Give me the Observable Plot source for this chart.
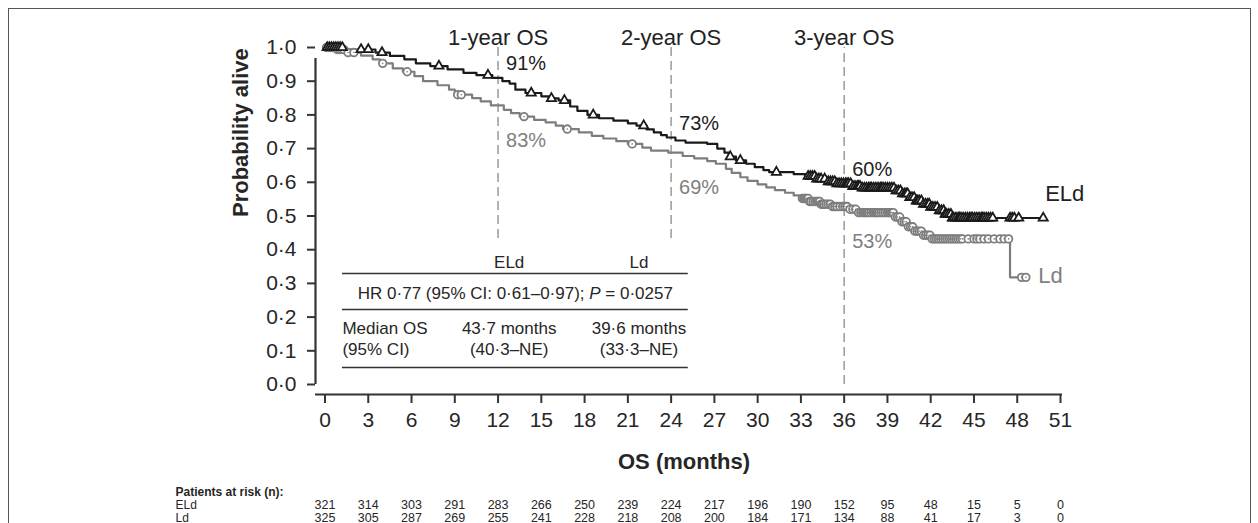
<!DOCTYPE html>
<html><head><meta charset="utf-8">
<script src="https://cdn.jsdelivr.net/npm/d3@7"></script>
<script src="https://cdn.jsdelivr.net/npm/@observablehq/plot@0.6"></script>
<style>
html,body{margin:0;padding:0;background:#fff;overflow:hidden;width:1258px;height:523px}
#frame{position:absolute;left:8px;top:8px;width:1243px;height:600px;border:1.5px solid #555;box-sizing:border-box}
#chart{position:absolute;left:0;top:0}
</style></head><body>
<div id="frame"></div><div id="chart"></div>
<script>
// ---- data ----
const xTicks = [0,3,6,9,12,15,18,21,24,27,30,33,36,39,42,45,48,51];
const yTicks = [0,0.1,0.2,0.3,0.4,0.5,0.6,0.7,0.8,0.9,1.0];
const groups = ["ELd", "Ld"];

const eldTimes = [0,1.5,3.5,4.5,5.5,6.3,7.3,8.5,9.6,10.5,11.6,12.3,12.8,13.2,13.9,15.0,15.5,16.2,17.0,17.5,18.2,19.0,20.0,21.0,21.6,22.3,22.8,23.3,23.7,24.3,25.0,26.5,27.2,27.7,28.0,28.5,29.2,29.8,30.4,30.8,32.5,33.3,34.0,34.8,35.5,36.5,37.2,39.6,40.0,40.5,41.0,41.5,42.0,42.5,43.0,43.5];
const eldSurv  = [1.0,0.994,0.985,0.975,0.965,0.953,0.945,0.935,0.925,0.918,0.91,0.90,0.893,0.875,0.865,0.855,0.849,0.843,0.825,0.812,0.80,0.79,0.783,0.775,0.768,0.757,0.748,0.74,0.733,0.724,0.718,0.714,0.70,0.688,0.676,0.665,0.655,0.645,0.636,0.63,0.624,0.618,0.61,0.602,0.596,0.588,0.583,0.575,0.566,0.555,0.545,0.535,0.526,0.516,0.505,0.494];
const eldEnd = 49.8;
const eldCensor = [0.15,0.3,0.45,0.6,0.75,0.9,1.05,1.2,2.5,3.0,3.95,7.9,11.3,14.3,15.7,16.6,18.6,22.1,28.1,28.8,31.3,
  33.5,33.65,33.8,33.95,34.1,34.25,34.4,34.65,34.9,35.05,35.2,35.35,35.5,35.65,35.8,35.95,36.1,36.2,36.3,36.45,36.6,36.75,36.9,37.0,37.1,37.25,37.4,37.55,37.7,37.8,37.9,38.05,38.2,38.35,38.5,38.6,38.7,38.85,39.0,39.15,39.3,39.45,39.6,39.75,39.9,40.05,40.2,40.3,40.4,40.55,40.7,40.85,41.0,41.1,41.2,41.35,41.5,41.65,41.8,41.9,42.0,42.15,42.3,42.45,42.6,42.75,42.9,43.0,43.1,43.25,43.4,43.5,43.6,43.75,43.9,44.0,44.1,44.25,44.4,44.55,44.7,44.8,44.9,45.05,45.2,45.35,45.5,45.6,45.7,45.85,46.0,46.15,46.3,47.5,47.65,47.8,48.1,49.8];

const ldTimes = [0,0.8,1.5,2.5,3.3,3.8,4.7,5.4,6.2,6.8,7.8,8.6,9.0,10.2,10.8,11.5,12.4,12.9,13.5,14.5,15.3,16.0,16.5,17.6,18.5,19.3,20.2,21.0,22.0,22.6,23.8,24.8,25.6,26.5,27.1,27.8,28.2,28.8,29.3,30.0,30.6,31.2,31.9,32.5,33.0,33.6,34.4,35.2,36.3,36.9,39.5,39.9,40.4,40.9,41.4,42.0,47.5];
const ldSurv  = [1.0,0.994,0.985,0.976,0.965,0.953,0.938,0.928,0.915,0.90,0.888,0.875,0.86,0.85,0.84,0.828,0.815,0.805,0.795,0.785,0.778,0.768,0.758,0.748,0.738,0.73,0.722,0.714,0.703,0.694,0.688,0.678,0.671,0.663,0.655,0.64,0.628,0.615,0.604,0.594,0.585,0.577,0.569,0.561,0.552,0.543,0.535,0.528,0.52,0.51,0.497,0.483,0.468,0.455,0.443,0.432,0.318];
const ldEnd = 48.7;
const ldCensor = [0.1,0.25,0.4,0.55,0.7,0.85,1.0,1.15,1.3,1.6,2.0,4.0,5.7,9.2,9.45,13.8,16.8,21.3,
  33.1,33.2,33.3,33.4,33.5,33.6,33.7,33.85,34.0,34.1,34.2,34.3,34.4,34.5,34.6,34.75,34.9,35.05,35.2,35.35,35.5,35.7,35.9,36.05,36.2,36.4,36.6,36.8,37.0,37.15,37.3,37.4,37.5,37.6,37.7,37.85,38.0,38.1,38.2,38.3,38.4,38.55,38.7,38.85,39.0,39.1,39.2,39.3,39.4,39.55,39.7,39.85,40.0,40.15,40.3,40.45,40.6,40.75,40.9,41.05,41.2,41.35,41.5,41.65,41.8,41.95,42.1,42.25,42.4,42.55,42.7,42.85,43.0,43.15,43.3,43.45,43.6,43.75,43.9,44.05,44.2,44.6,45.0,45.2,45.4,45.7,46.0,46.4,46.8,47.1,47.4,48.3,48.6];

const years = [12, 24, 36];
const yearLabels = ["1-year OS", "2-year OS", "3-year OS"];
const eldPct = ["91%", "73%", "60%"];
const ldPct = ["83%", "69%", "53%"];

const tableHeader = ["ELd", "Ld"];
const hrText = "HR 0·77 (95% CI: 0·61–0·97); P = 0·0257";
const medianLabel = ["Median OS", "(95% CI)"];
const medianEld = ["43·7 months", "(40·3–NE)"];
const medianLd = ["39·6 months", "(33·3–NE)"];

const riskTitle = "Patients at risk (n):";
const eldRisk = [321,314,303,291,283,266,250,239,224,217,196,190,152,95,48,15,5,0];
const ldRisk  = [325,305,287,269,255,241,228,218,208,200,184,171,134,88,41,17,3,0];

// ---- helpers ----
const ELD = "#1a1a1a", LD = "#7d7d7d", TXT = "#262626";
function survAt(times, surv, t) { return surv[Math.max(0, d3.bisectRight(times, t) - 1)]; }
const eldLine = eldTimes.map((t, i) => ({t, s: eldSurv[i]})).concat([{t: eldEnd, s: eldSurv[eldSurv.length - 1]}]);
const ldLine = ldTimes.map((t, i) => ({t, s: ldSurv[i]})).concat([{t: ldEnd, s: ldSurv[ldSurv.length - 1]}]);
const fmt = d => d3.format(".1f")(d).replace(".", "·");
const riskFont = "'Liberation Sans Narrow', 'Liberation Sans', Arial, sans-serif";

const chart = Plot.plot({
  width: 1258, height: 523,
  marginTop: 47, marginLeft: 315, marginRight: 196, marginBottom: 129,
  insetLeft: 9.5, insetRight: 2, insetBottom: 10,
  style: {fontFamily: "'Liberation Sans', Arial, sans-serif", color: TXT, background: "transparent", overflow: "visible"},
  x: {domain: [0, 51]},
  y: {domain: [0, 1]},
  marks: [
    // dashed landmark lines
    Plot.ruleX(years.slice(0, 2), {x: d => d, y1: 0.433, y2: 1.0, stroke: "#9a9a9a", strokeWidth: 1.5, strokeDasharray: "9,5"}),
    Plot.ruleX(years.slice(2), {x: d => d, y1: 0, y2: 1.0, stroke: "#9a9a9a", strokeWidth: 1.5, strokeDasharray: "9,5"}),
    // axes
    Plot.ruleY([0], {x1: 0, x2: 51, dy: 10, insetLeft: -9.5, insetRight: -2, stroke: "#333", strokeWidth: 2.2}),
    Plot.ruleX([0], {y1: 0, y2: 1, dx: -9.5, insetBottom: -11, stroke: "#333", strokeWidth: 2.2}),
    Plot.axisX({ticks: xTicks, tickSize: 9, tickPadding: 9, fontSize: 21, label: null, strokeWidth: 2, stroke: "#333"}),
    Plot.axisY({ticks: yTicks, tickSize: 8, tickPadding: 11, fontSize: 21, label: null, tickFormat: fmt, strokeWidth: 2, stroke: "#333"}),
    Plot.text(["Probability alive"], {frameAnchor: "left", dx: -75, dy: -4, rotate: -90, fontSize: 22, fontWeight: "bold", fill: TXT}),
    Plot.text(["OS (months)"], {frameAnchor: "bottom", dx: -5, dy: 74, fontSize: 22, fontWeight: "bold", fill: TXT}),
    // curves
    Plot.line(ldLine, {x: "t", y: "s", curve: "step-after", stroke: LD, strokeWidth: 2.2}),
    Plot.line(eldLine, {x: "t", y: "s", curve: "step-after", stroke: ELD, strokeWidth: 2.2}),
    // censor marks
    Plot.dot(ldCensor, {x: d => d, y: d => survAt(ldTimes, ldSurv, d), r: 3.8, stroke: LD, fill: "white", strokeWidth: 1.8}),
    Plot.dot(ldCensor, {x: d => d, y: d => survAt(ldTimes, ldSurv, d), r: 0.8, fill: LD}),
    Plot.dot(eldCensor, {x: d => d, y: d => survAt(eldTimes, eldSurv, d), symbol: "triangle", r: 3.4, stroke: ELD, fill: "white", strokeWidth: 1.8}),
    // year labels
    Plot.text(yearLabels, {x: years, frameAnchor: "top", dy: -18, fontSize: 22, fill: "#222"}),
    Plot.text(eldPct, {x: years, y: (d, i) => survAt(eldTimes, eldSurv, years[i]), dx: 8, dy: -14, textAnchor: "start", fontSize: 20, fill: "#222"}),
    Plot.text(ldPct, {x: years, y: (d, i) => survAt(ldTimes, ldSurv, years[i]), dx: 8, dy: 35, textAnchor: "start", fontSize: 20, fill: "#808080"}),
    // group end labels
    Plot.text([groups[0]], {x: eldEnd, y: eldSurv[eldSurv.length - 1], dx: 2, dy: -24, textAnchor: "start", fontSize: 22, fill: "#222"}),
    Plot.text([groups[1]], {x: ldEnd, y: ldSurv[ldSurv.length - 1], dx: 11, dy: -1, textAnchor: "start", fontSize: 22, fill: "#808080"}),
    // summary table
    Plot.ruleY([0.3294, 0.2226, 0.0504], {x1: 1.21, x2: 25.19, stroke: "#333", strokeWidth: 1.4}),
    Plot.text(tableHeader, {x: [12.77, 21.77], y: 0.362, fontSize: 17, fill: TXT}),
    Plot.text([hrText], {x: 13.2, y: 0.27, fontSize: 17, fill: TXT}),
    Plot.text(medianLabel, {x: 1.21, y: [0.166, 0.104], textAnchor: "start", fontSize: 17, fill: TXT}),
    Plot.text(medianEld, {x: 12.77, y: [0.166, 0.104], fontSize: 17, fill: TXT}),
    Plot.text(medianLd, {x: 21.77, y: [0.166, 0.104], fontSize: 17, fill: TXT}),
    // patients at risk
    Plot.text([riskTitle], {frameAnchor: "bottom-left", dx: -140, dy: 101, textAnchor: "start", fontSize: 12, fontWeight: "bold", fill: TXT}),
    Plot.text([groups[0]], {frameAnchor: "bottom-left", dx: -140, dy: 114, textAnchor: "start", fontSize: 12, fontFamily: riskFont, fill: TXT}),
    Plot.text([groups[1]], {frameAnchor: "bottom-left", dx: -140, dy: 127, textAnchor: "start", fontSize: 12, fontFamily: riskFont, fill: TXT}),
    Plot.text(eldRisk, {x: xTicks, frameAnchor: "bottom", dy: 114, fontSize: 12.5, fontFamily: riskFont, fill: TXT}),
    Plot.text(ldRisk, {x: xTicks, frameAnchor: "bottom", dy: 127, fontSize: 12.5, fontFamily: riskFont, fill: TXT})
  ]
});
document.getElementById("chart").appendChild(chart);

// italic P in HR line
chart.querySelectorAll("text").forEach(el => {
  if (el.textContent === hrText) {
    const parts = hrText.split("P");
    el.textContent = "";
    const ns = "http://www.w3.org/2000/svg";
    const a = document.createElementNS(ns, "tspan"); a.textContent = parts[0];
    const b = document.createElementNS(ns, "tspan"); b.textContent = "P"; b.setAttribute("font-style", "italic");
    const c = document.createElementNS(ns, "tspan"); c.textContent = parts[1];
    el.append(a, b, c);
  }
});
</script>
</body></html>
